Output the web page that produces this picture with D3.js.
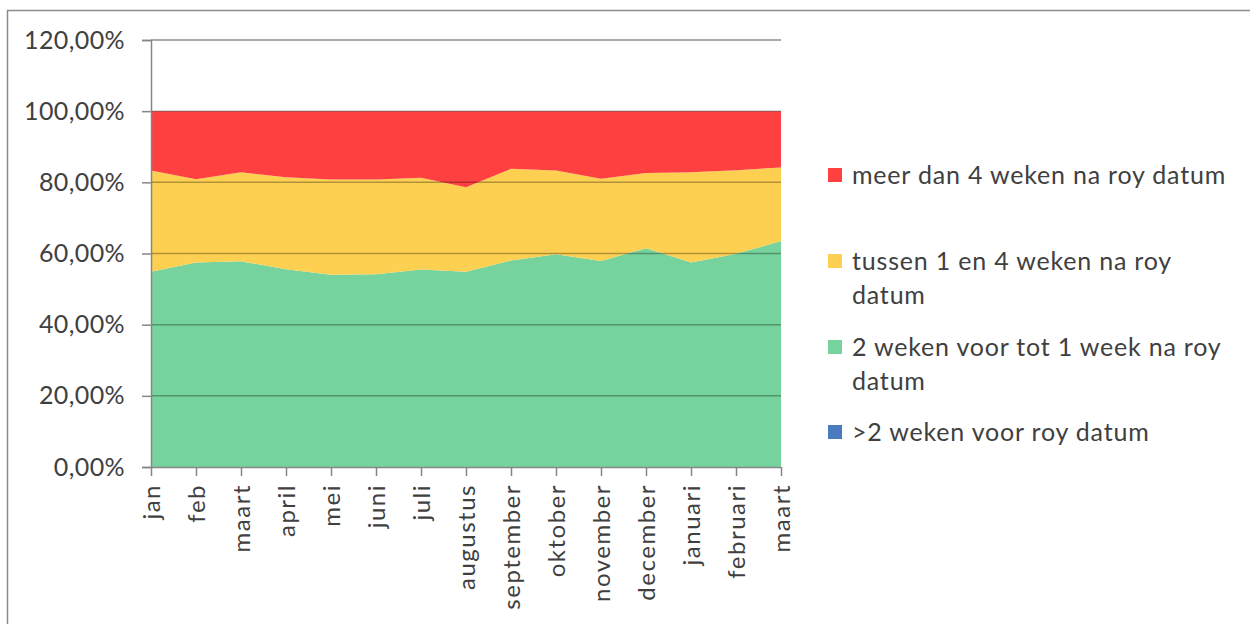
<!DOCTYPE html>
<html lang="nl">
<head>
  <meta charset="UTF-8">
  <title>roy datum</title>
  <script src="https://d3js.org/d3.v7.min.js"></script>
  <style>
    body { margin: 0; background: #fff; }
    text { font-family: Lato, "Open Sans", sans-serif; fill: #404040; }
  </style>
</head>
<body>
  <div id="chart"></div>

  <script>
    // maanden (x-as)
    const maanden = ["jan", "feb", "maart", "april", "mei", "juni", "juli", "augustus",
                     "september", "oktober", "november", "december", "januari", "februari", "maart"];

    // aandelen per categorie in %
    const voorRoy   = [0, 0, 0, 0, 0, 0, 0, 0, 0, 0, 0, 0, 0, 0, 0];
    const rondRoy   = [54.9, 57.5, 57.8, 55.6, 54.0, 54.2, 55.5, 54.9, 58.0, 59.8, 57.9, 61.5, 57.5, 59.9, 63.5];
    const tussen1en4 = [28.4, 23.4, 25.0, 25.8, 26.8, 26.6, 25.8, 23.7, 25.8, 23.5, 23.1, 21.1, 25.3, 23.5, 20.7];
    const meerDan4  = [16.7, 19.1, 17.2, 18.6, 19.2, 19.2, 18.7, 21.4, 16.2, 16.7, 19.0, 17.4, 17.2, 16.6, 15.8];

    const yTicks = [0, 20, 40, 60, 80, 100, 120];

    const reeksen = [
      {key: "voor",   naam: ">2 weken voor roy datum",              waarden: voorRoy,    kleur: "#4a7bc0"},
      {key: "rond",   naam: "2 weken voor tot 1 week na roy datum", waarden: rondRoy,    kleur: "#76d39e"},
      {key: "tussen", naam: "tussen 1 en 4 weken na roy datum",     waarden: tussen1en4, kleur: "#fdd052"},
      {key: "meer",   naam: "meer dan 4 weken na roy datum",        waarden: meerDan4,   kleur: "#ff4040"}
    ];

    const W = 1250, H = 624;
    const margin = {top: 40, left: 151};
    const width = 630, height = 427;

    const svg = d3.select("#chart").append("svg")
                  .attr("width", W).attr("height", H);

    // kader van de grafiek
    svg.append("rect")
       .attr("x", 7.5).attr("y", 10.5)
       .attr("width", 1300).attr("height", 700)
       .attr("fill", "#fff").attr("stroke", "#8c8c8c").attr("stroke-width", 1.5);

    const g = svg.append("g").attr("transform", `translate(${margin.left},${margin.top})`);

    const x = d3.scalePoint().domain(d3.range(maanden.length)).range([0, width]);
    const y = d3.scaleLinear().domain([0, 120]).range([height, 0]);

    const tabel = maanden.map((m, i) => {
      const rij = {i};
      reeksen.forEach(r => rij[r.key] = r.waarden[i]);
      return rij;
    });

    const stack = d3.stack().keys(reeksen.map(r => r.key));
    const lagen = stack(tabel);

    const area = d3.area()
                   .x(d => x(d.data.i))
                   .y0(d => y(d[0]))
                   .y1(d => y(d[1]));

    g.selectAll(".laag")
     .data(lagen)
     .enter()
     .append("path")
     .attr("d", area)
     .attr("fill", (d, i) => reeksen[i].kleur);

    // rasterlijnen over de vlakken
    g.selectAll(".grid")
     .data(yTicks.filter(t => t > 0))
     .enter()
     .append("line")
     .attr("x1", 0).attr("x2", width)
     .attr("y1", d => y(d)).attr("y2", d => y(d))
     .attr("stroke", d => d === 120 ? "#8c8c8c" : "#000")
     .attr("stroke-opacity", d => d === 120 ? 1 : 0.3)
     .attr("stroke-width", 1.5);

    // y-as
    const yAxis = g.append("g")
      .call(d3.axisLeft(y).tickValues(yTicks).tickSize(9).tickPadding(17)
              .tickFormat(d => d3.format(".2f")(d).replace(".", ",") + "%"));
    yAxis.select(".domain").attr("stroke", "#868686").attr("stroke-width", 1.5);
    yAxis.selectAll(".tick line").attr("stroke", "#868686").attr("stroke-width", 1.5);
    yAxis.selectAll("text").style("font-size", "25px").style("letter-spacing", "0.4px").attr("fill", "#404040");

    // x-as
    const xAxis = g.append("g")
      .attr("transform", `translate(0,${height})`)
      .call(d3.axisBottom(x).tickSize(9).tickSizeOuter(0).tickFormat(i => maanden[i]));
    xAxis.select(".domain").attr("stroke", "#868686").attr("stroke-width", 1.5);
    xAxis.selectAll(".tick line").attr("stroke", "#868686").attr("stroke-width", 1.5);
    xAxis.selectAll("text")
         .style("font-size", "24px")
         .style("letter-spacing", "1.5px")
         .attr("fill", "#404040")
         .attr("transform", "rotate(-90)")
         .attr("text-anchor", "end")
         .attr("x", -17)
         .attr("y", 0)
         .attr("dy", "0.35em");

    // legenda
    const legenda = [
      {r: reeksen[3], regels: ["meer dan 4 weken na roy datum"], y: 175},
      {r: reeksen[2], regels: ["tussen 1 en 4 weken na roy", "datum"], y: 261},
      {r: reeksen[1], regels: ["2 weken voor tot 1 week na roy", "datum"], y: 347},
      {r: reeksen[0], regels: [">2 weken voor roy datum"], y: 432}
    ];

    const item = svg.selectAll(".legend-item")
                    .data(legenda)
                    .enter()
                    .append("g")
                    .attr("transform", d => `translate(828, ${d.y})`);

    item.append("rect")
        .attr("x", 0).attr("y", -7)
        .attr("width", 14).attr("height", 14)
        .attr("fill", d => d.r.kleur);

    item.selectAll("text")
        .data(d => d.regels)
        .enter()
        .append("text")
        .attr("x", 24)
        .attr("y", (d, i) => i * 34)
        .attr("dy", "0.35em")
        .style("font-size", "25px")
        .style("letter-spacing", "0.8px")
        .text(d => d);
  </script>
</body>
</html>
